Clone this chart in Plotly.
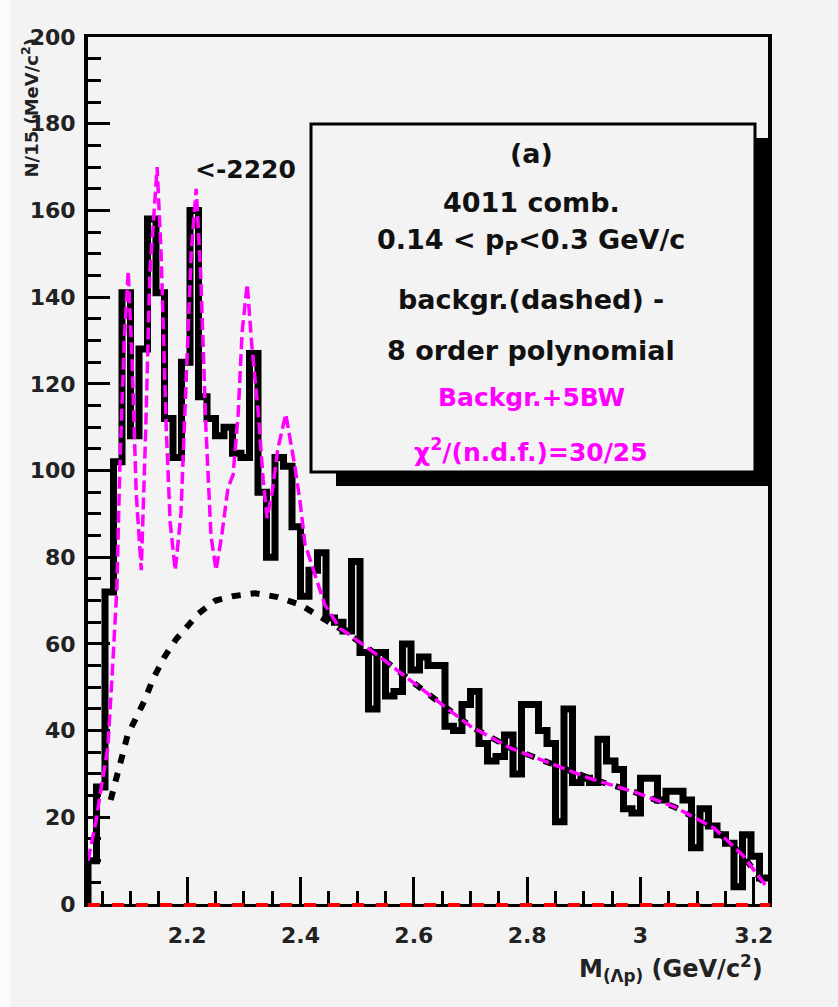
import numpy as np
import plotly.graph_objects as go

# ---------------- data ----------------
x_lo = 2.025
bin_width = 0.015
counts = [10, 27, 72, 102, 141, 108, 128, 158, 141, 112,
          103, 125, 160, 117, 112, 108, 110, 104, 103, 127,
          95, 80, 103, 101, 87, 71, 77, 81, 66, 65,
          63, 79, 58, 45, 58, 48, 49, 60, 54, 57,
          55, 55, 41, 40, 46, 49, 37, 33, 34, 39,
          30, 46, 46, 40, 37, 19, 45, 28, 29, 28,
          38, 33, 31, 22, 21, 29, 29, 24, 26, 26,
          24, 13, 22, 18, 16, 14, 4, 16, 11, 6]

# background (8th order polynomial)
bg_x = [2.065, 2.075, 2.085, 2.095, 2.11, 2.125, 2.14, 2.16, 2.18, 2.20,
        2.22, 2.25, 2.28, 2.32, 2.36, 2.40, 2.44, 2.48, 2.54, 2.60,
        2.65, 2.70, 2.77, 2.84, 2.91, 2.99, 3.06, 3.13, 3.18, 3.22]
bg_y = [24, 29, 35, 39, 43, 47, 52, 57, 61, 64,
        67, 70, 71, 71.7, 70.8, 69, 66, 62.7, 57, 51,
        46, 41, 36, 32.5, 29, 25.8, 22.4, 17.5, 11.3, 4.4]

# background + 5 BW fit
fit_x = [2.025, 2.039, 2.046, 2.060, 2.069, 2.076, 2.081, 2.089, 2.096, 2.103,
         2.110, 2.119, 2.127, 2.134, 2.147, 2.154, 2.163, 2.170, 2.179, 2.189,
         2.198, 2.207, 2.216, 2.224, 2.233, 2.242, 2.251, 2.261, 2.272, 2.281,
         2.290, 2.297, 2.306, 2.314, 2.325, 2.334, 2.341, 2.350, 2.360, 2.374,
         2.390, 2.399, 2.408, 2.426, 2.443, 2.470, 2.48, 2.54, 2.60, 2.65,
         2.70, 2.77, 2.84, 2.91, 2.99, 3.06, 3.13, 3.18, 3.22]
fit_y = [10, 19, 25, 36, 56, 73, 100, 130, 146, 125,
         95, 77, 110, 145, 170, 150, 110, 88, 77, 90,
         120, 150, 165, 145, 110, 85, 77, 85, 96, 99,
         113, 132, 143, 129, 114, 98, 89, 95, 105, 113,
         101, 93, 83, 76, 69, 63.5, 62.7, 57, 51, 46,
         41, 36, 32.5, 29, 25.8, 22.4, 17.5, 11.3, 4.4]

x_tickvals = [2.2, 2.4, 2.6, 2.8, 3.0, 3.2]
x_ticktext = ["2.2", "2.4", "2.6", "2.8", "3", "3.2"]
y_tickvals = [0, 20, 40, 60, 80, 100, 120, 140, 160, 180, 200]
y_ticktext = ["0", "20", "40", "60", "80", "100", "120", "140", "160", "180", "200"]

legend_lines = ["(a)", "4011 comb.", "0.14 &lt; p<sub>P</sub>&lt;0.3 GeV/c",
                "backgr.(dashed) -", "8 order polynomial"]
fit_lines = ["Backgr.+5BW", "χ<sup>2</sup>/(n.d.f.)=30/25"]
peak_label = "&lt;-2220"

# ---------------- layout geometry (pixels) ----------------
W, H = 838, 1007
L, R, T, B = 88, 768, 37, 904
pw, ph = R - L, B - T


def px(x):
    return (x - L) / pw


def py(y):
    return (B - y) / ph


x_hi = x_lo + bin_width * len(counts)
edges = x_lo + bin_width * np.arange(len(counts) + 1)
hx = [edges[0]] + list(edges[:-1]) + [edges[-1]]
hy = [0] + counts + [counts[-1]]

BG = "#f3f3f3"
MAG = "#ff00ff"
FONT = "DejaVu Sans"

fig = go.Figure()

fig.add_trace(go.Scatter(x=bg_x, y=bg_y, mode="lines",
                         line=dict(color="black", width=6, dash="9px,10px"),
                         cliponaxis=False, showlegend=False))
fig.add_trace(go.Scatter(x=hx, y=hy, mode="lines", line_shape="hv",
                         line=dict(color="black", width=7),
                         cliponaxis=False, showlegend=False))
fig.add_trace(go.Scatter(x=fit_x, y=fit_y, mode="lines",
                         line=dict(color=MAG, width=3.5, dash="12px,5px"),
                         cliponaxis=False, showlegend=False))

shapes = [
    # left light strip of the scan
    dict(type="rect", xref="paper", yref="paper", x0=px(0), x1=px(10),
         y0=py(W * 2), y1=py(-10), fillcolor="#fbfbfb", line_width=0, layer="below"),
    # red dashed zero line of the fit function
    dict(type="line", xref="paper", yref="paper", x0=0, x1=px(770), y0=py(905), y1=py(905),
         line=dict(color="red", width=4, dash="12px,12px"), layer="above"),
    # shadow of the text box
    dict(type="rect", xref="paper", yref="paper", x0=px(755), x1=px(770),
         y0=py(486), y1=py(138), fillcolor="black", line_width=0),
    dict(type="rect", xref="paper", yref="paper", x0=px(336), x1=px(770),
         y0=py(486), y1=py(470), fillcolor="black", line_width=0),
    # text box
    dict(type="rect", xref="paper", yref="paper", x0=px(311), x1=px(755),
         y0=py(472), y1=py(124), fillcolor=BG, line=dict(color="black", width=3)),
]

ann = []
line_y = [153, 202, 241, 300, 350]
for txt, yy in zip(legend_lines, line_y):
    ann.append(dict(text=txt, x=px(531), y=py(yy), xref="paper", yref="paper",
                    showarrow=False, xanchor="center", yanchor="middle",
                    font=dict(family=FONT, size=27, color="#111", weight="bold")))
for txt, yy in zip(fit_lines, [397, 450]):
    ann.append(dict(text=txt, x=px(531), y=py(yy), xref="paper", yref="paper",
                    showarrow=False, xanchor="center", yanchor="middle",
                    font=dict(family=FONT, size=25, color=MAG, weight="bold")))
ann.append(dict(text=peak_label, x=px(245), y=py(170), xref="paper", yref="paper",
                showarrow=False, xanchor="center", yanchor="middle",
                font=dict(family=FONT, size=25, color="#111", weight="bold")))
ann.append(dict(text="N/15 (MeV/c<sup>2</sup>)", x=px(30), y=py(37), xref="paper",
                yref="paper", showarrow=False, textangle=-90, xanchor="center",
                yanchor="top", font=dict(family=FONT, size=18, color="#222", weight="bold")))
ann.append(dict(text="M<sub>(Λp)</sub> (GeV/c<sup>2</sup>)", x=px(765), y=py(968),
                xref="paper", yref="paper", showarrow=False, xanchor="right",
                yanchor="middle", font=dict(family=FONT, size=24, color="#222", weight="bold")))

tickfont = dict(family=FONT, size=22, color="#222", weight="bold")

fig.update_layout(
    width=W, height=H,
    margin=dict(l=L, r=W - R, t=T, b=H - B, pad=0),
    paper_bgcolor=BG, plot_bgcolor=BG,
    shapes=shapes, annotations=ann,
    xaxis=dict(range=[x_lo, x_hi], showgrid=False, zeroline=False,
               showline=True, linecolor="black", linewidth=3, mirror=True,
               ticks="inside", ticklen=27, tickwidth=3, tickcolor="black",
               tickvals=x_tickvals, ticktext=x_ticktext, tickfont=tickfont,
               ticklabelstandoff=10,
               minor=dict(ticks="inside", ticklen=13, tickwidth=3, tickcolor="black",
                          dtick=0.05, tick0=2.2),
               layer="below traces"),
    yaxis=dict(range=[0, 200], showgrid=False, zeroline=False,
               showline=True, linecolor="black", linewidth=4, mirror=True,
               ticks="inside", ticklen=22, tickwidth=3, tickcolor="black",
               tickvals=y_tickvals, ticktext=y_ticktext, tickfont=tickfont,
               ticklabelstandoff=4,
               minor=dict(ticks="inside", ticklen=13, tickwidth=3, tickcolor="black",
                          dtick=5, tick0=0),
               layer="below traces"),
)

fig.write_html("out.html")
